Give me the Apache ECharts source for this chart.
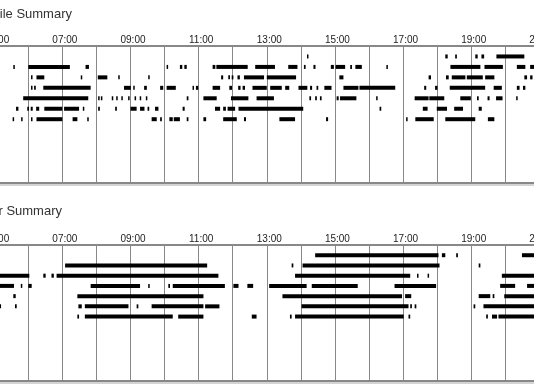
<!DOCTYPE html>
<html>
<head>
<meta charset="utf-8">
<script src="https://cdn.jsdelivr.net/npm/echarts@6/dist/echarts.min.js"></script>
<style>
html,body{margin:0;padding:0;background:#fff;}
#chart{width:534px;height:388px;}
</style>
</head>
<body>
<div id="chart"></div>
<script>
// ---- data (times in decimal hours) ----
const panelTitles = ['Mobile Summary', 'Computer Summary'];
const hourMin = 5;
const hourMax = 21;
const rowCount = 7;

const mobileRow1 = [[14.18,14.22],[18.24,18.31],[18.53,18.58],[19.12,19.19],[19.30,19.38],[19.74,20.56]];
const mobileRow2 = [[5.56,5.60],[6.00,7.22],[7.68,7.78],[10.06,10.09],[10.45,10.52],[10.58,10.65],[11.41,11.49],[11.52,12.44],[12.66,13.24],[13.63,13.90],[14.09,14.14],[14.37,14.43],[14.88,14.97],[15.02,15.30],[15.45,15.50],[15.60,15.79],[16.51,16.55],[18.39,19.27],[19.39,19.93],[20.34,20.59],[20.73,21.00]];
const mobileRow3 = [[6.08,6.12],[6.24,6.47],[7.54,7.58],[8.04,8.32],[8.64,8.68],[9.52,9.56],[11.66,11.72],[11.87,11.92],[11.97,12.02],[12.14,12.21],[12.33,12.92],[13.00,13.86],[15.13,15.25],[17.75,17.82],[18.26,18.34],[18.43,18.83],[18.87,19.34],[19.41,19.68],[20.56,20.64],[20.73,20.80]];
const mobileRow4 = [[6.08,6.12],[6.17,6.22],[6.44,7.83],[8.81,9.01],[9.08,9.12],[9.40,9.48],[9.87,9.96],[10.06,10.33],[10.82,10.86],[10.92,10.99],[11.41,11.63],[11.90,11.98],[12.16,12.23],[12.29,12.36],[12.58,13.00],[13.10,13.44],[13.54,13.66],[13.93,14.19],[14.27,14.33],[14.46,14.51],[14.69,14.90],[15.25,15.69],[15.72,16.77],[17.62,17.68],[17.94,18.01],[18.37,19.41],[19.66,19.90],[20.34,20.42],[20.52,20.59]];
const mobileRow5 = [[5.85,7.76],[8.05,8.08],[8.13,8.16],[8.45,8.48],[8.58,8.61],[8.73,8.76],[8.93,8.96],[9.12,9.15],[9.27,9.30],[9.45,9.48],[10.65,10.70],[11.14,11.53],[11.95,12.46],[12.70,13.21],[14.25,14.30],[14.42,14.47],[14.56,14.61],[15.05,15.11],[15.15,15.63],[16.21,16.25],[17.34,17.75],[17.77,18.21],[18.68,18.99],[19.17,19.22],[19.48,19.54],[19.73,19.92],[20.32,20.36]];
const mobileRow6 = [[5.64,5.71],[5.97,6.02],[6.07,6.13],[6.23,6.32],[6.47,7.00],[7.05,7.49],[7.60,7.64],[8.05,8.10],[8.55,8.60],[9.00,9.18],[9.28,9.41],[9.50,9.55],[9.72,9.82],[10.53,10.59],[11.48,11.63],[11.72,11.80],[11.85,12.07],[12.17,14.07],[16.31,16.36],[17.58,17.72],[17.99,18.29],[18.50,18.76],[19.22,19.31]];
const mobileRow7 = [[5.54,5.58],[5.79,5.82],[6.08,6.12],[6.24,7.00],[7.30,7.44],[7.73,7.77],[9.62,9.77],[9.87,9.92],[10.14,10.24],[10.27,10.45],[10.65,10.70],[11.14,11.22],[11.72,12.12],[12.33,12.39],[13.37,13.83],[14.74,14.80],[17.09,17.13],[17.36,17.90],[18.24,19.12],[19.49,19.68]];

const computerRow1 = [[14.42,18.04],[18.14,18.24],[18.56,18.61],[20.49,21.00]];
const computerRow2 = [[7.08,11.25],[13.73,13.78],[14.05,18.07],[19.22,19.27]];
const computerRow3 = [[5.00,6.03],[6.44,6.51],[6.68,6.75],[6.83,11.58],[13.83,17.21],[17.41,17.45],[17.72,17.76],[19.90,21.00]];
const computerRow4 = [[5.00,5.58],[5.78,5.82],[6.00,6.10],[7.83,9.28],[9.52,9.56],[10.11,10.16],[10.24,11.77],[12.02,12.17],[12.43,12.60],[13.07,14.17],[14.32,15.67],[16.75,17.97],[19.85,20.29],[20.64,21.00]];
const computerRow5 = [[5.56,5.63],[7.44,11.14],[13.46,16.97],[17.06,17.24],[19.22,19.56],[19.63,19.68],[19.97,21.00]];
const computerRow6 = [[5.00,5.20],[5.61,5.66],[7.47,7.57],[7.66,8.94],[9.18,9.23],[9.62,11.14],[11.19,11.61],[14.02,17.16],[17.21,17.26],[17.34,17.39],[19.07,19.12],[19.36,21.00]];
const computerRow7 = [[7.44,7.49],[7.66,10.24],[10.40,11.14],[12.56,12.70],[13.68,13.73],[13.83,17.02],[17.16,17.21],[19.44,19.49],[19.61,19.76],[19.80,21.00]];

const mobileRows = [mobileRow1, mobileRow2, mobileRow3, mobileRow4, mobileRow5, mobileRow6, mobileRow7];
const computerRows = [computerRow1, computerRow2, computerRow3, computerRow4, computerRow5, computerRow6, computerRow7];

// ---- build ----
function flatten(rows) {
  const out = [];
  rows.forEach((segs, i) => segs.forEach(s => out.push([s[0], s[1], i + 1])));
  return out;
}
function hourLabel(v) {
  if (Math.round(v) % 2 === 0) return '';
  const h = Math.round(v);
  return (h < 10 ? '0' : '') + h + ':00';
}
function renderItem(params, api) {
  const row = api.value(2);
  const s = api.coord([api.value(0), row]);
  const e = api.coord([api.value(1), row]);
  const h = 4;
  const cs = params.coordSys;
  const rect = echarts.graphic.clipRectByRect(
    { x: s[0], y: s[1] - h / 2, width: Math.max(e[0] - s[0], 1.5), height: h },
    { x: cs.x, y: cs.y, width: cs.width, height: cs.height }
  );
  return rect && { type: 'rect', shape: rect, style: { fill: '#000' } };
}

const FONT = 'Liberation Sans, Arial, sans-serif';
const gridLeft = -5.77;
const gridWidth = 545.1;

const grids = [
  { left: gridLeft, width: gridWidth, top: 46, height: 137, containLabel: false, outerBoundsMode: 'none' },
  { left: gridLeft, width: gridWidth, top: 245, height: 135.5, containLabel: false, outerBoundsMode: 'none' }
];

const xAxes = [];
const yAxes = [];
[0, 1].forEach(g => {
  xAxes.push({
    type: 'value', gridIndex: g, position: 'top', min: hourMin, max: hourMax, interval: 1,
    axisLine: { show: true, onZero: false, lineStyle: { color: '#888', width: 2 } },
    axisTick: { show: false },
    axisLabel: { formatter: hourLabel, fontSize: 10, color: '#222', fontFamily: FONT, margin: 1, padding: [0, 0, 0, 5] },
    splitLine: { show: true, lineStyle: { color: '#888', width: 1 } }
  });
  xAxes.push({
    type: 'value', gridIndex: g, position: 'bottom', min: hourMin, max: hourMax, interval: 1,
    axisLine: { show: true, onZero: false, lineStyle: { color: '#888', width: 2, shadowColor: '#d4d4d4', shadowOffsetY: 2, shadowBlur: 0 } },
    axisTick: { show: false }, axisLabel: { show: false }, splitLine: { show: false }
  });
  yAxes.push({
    type: 'value', gridIndex: g, inverse: true, min: 0, max: g === 0 ? 13.1 : 13.25,
    show: false, splitLine: { show: false }
  });
});

const chart = echarts.init(document.getElementById('chart'), null, { renderer: 'canvas' });
chart.setOption({
  animation: false,
  backgroundColor: '#fff',
  grid: grids,
  xAxis: xAxes,
  yAxis: yAxes,
  graphic: [
    { type: 'text', x: 72, y: 14.5, style: { text: panelTitles[0], fill: '#333', font: '13px ' + FONT, align: 'right', verticalAlign: 'middle' } },
    { type: 'text', x: 62, y: 211.5, style: { text: panelTitles[1], fill: '#333', font: '13px ' + FONT, align: 'right', verticalAlign: 'middle' } }
  ],
  series: [
    { type: 'custom', xAxisIndex: 0, yAxisIndex: 0, renderItem, encode: { x: [0, 1], y: 2 }, data: flatten(mobileRows) },
    { type: 'custom', xAxisIndex: 2, yAxisIndex: 1, renderItem, encode: { x: [0, 1], y: 2 }, data: flatten(computerRows) }
  ]
});
</script>
</body>
</html>
